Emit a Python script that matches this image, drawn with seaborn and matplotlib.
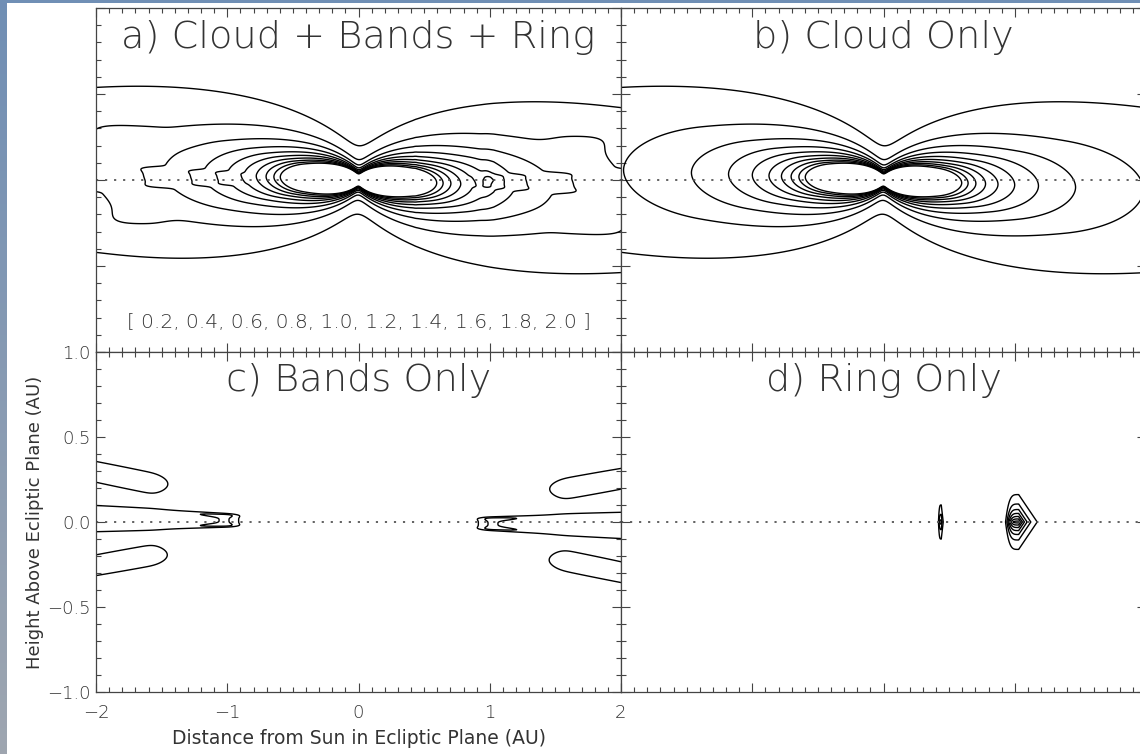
import numpy as np
import matplotlib
matplotlib.use("Agg")
import matplotlib.pyplot as plt
import seaborn as sns
from matplotlib.ticker import MultipleLocator

# contour levels printed in panel a (also used, scaled, for c and d)
levels = [0.2, 0.4, 0.6, 0.8, 1.0, 1.2, 1.4, 1.6, 1.8, 2.0]
band_level_scale = 0.25
ring_level_scale = 0.1

titles = ["a) Cloud + Bands + Ring", "b) Cloud Only", "c) Bands Only", "d) Ring Only"]
x_ticks = [-2, -1, 0, 1, 2]
x_tick_labels = ["\u22122", "\u22121", "0", "1", "2"]
y_ticks = [-1.0, -0.5, 0.0, 0.5, 1.0]
y_tick_labels = ["\u22121.0", "\u22120.5", "0.0", "0.5", "1.0"]

# smooth cloud, Kelsall-type fan model
cloud_alpha = 1.34
cloud_beta = 4.14
cloud_gamma = 0.942
cloud_mu = 0.189
cloud_tilt = 0.03

# dust bands (two bands)
band_amp = [0.34, 0.118]
band_width_deg = [8.78, 2.1]
band_v = [0.1, 0.9]
band_p = 4
band_edge = [1.5, 0.94]
band_tilt = 0.01

# ring features
ring_x = [1.03, 0.44]
ring_peak = [0.15, 0.07]
ring_sx_in = [0.084, 0.02]
ring_sx_out = [0.07, 0.012]
ring_sz = [0.08, 0.08]
ring_q_in = 4

TEXT = "#333333"


def cloud(x, z):
    r = np.maximum(np.sqrt(x**2 + z**2), 1e-3)
    zeta = np.abs(z + cloud_tilt * x) / r
    g = np.where(zeta < cloud_mu, zeta**2 / (2 * cloud_mu), zeta - cloud_mu / 2)
    return r**-cloud_alpha * np.exp(-cloud_beta * g**cloud_gamma)


def bands(x, z):
    r = np.maximum(np.sqrt(x**2 + z**2), 1e-3)
    zeta = np.abs(z + band_tilt * x) / r
    total = np.zeros_like(x)
    for amp, w, v, edge in zip(band_amp, band_width_deg, band_v, band_edge):
        s = zeta / np.radians(w)
        total += amp / r * np.exp(-s**6) * (v + s**band_p) * (1 - np.exp(-(r / edge)**20))
    return total


def ring(x, z):
    total = np.zeros_like(x)
    for xc, pk, sin_, sout, sz in zip(ring_x, ring_peak, ring_sx_in, ring_sx_out, ring_sz):
        dx = x - xc
        gx = np.where(dx < 0, np.exp(-(np.abs(dx) / sin_)**ring_q_in), np.exp(-dx / sout))
        total += pk * gx * np.exp(-np.abs(z) / sz)
    return total


xs = np.linspace(-2.2, 2.2, 1761)
zs = np.linspace(-1.1, 1.1, 881)
X, Z = np.meshgrid(xs, zs)
C = cloud(X, Z)
B = bands(X, Z)
Rg = ring(X, Z)

fields = [C + B + Rg, C, B, Rg]
panel_levels = [levels, levels,
                [l * band_level_scale for l in levels],
                [l * ring_level_scale for l in levels]]

sns.set_theme(style="ticks")
plt.rcParams["font.family"] = ["DejaVu Sans"]
plt.rcParams["font.weight"] = "light"

W, H = 1140, 754
fig = plt.figure(figsize=(W / 100, H / 100), dpi=100)
fig.patch.set_facecolor("white")

# blue-grey frame strips of the slide
strip = fig.add_axes([0, 0, 7 / W, 1])
grad = np.linspace(0, 1, 256)[:, None]
cols = np.array([[0.44, 0.56, 0.71], [0.62, 0.65, 0.69]])
img = cols[0] * (1 - grad[..., None]) + cols[1] * grad[..., None]
strip.imshow(img, aspect="auto", extent=[0, 1, 0, 1])
strip.set_axis_off()
top = fig.add_axes([0, 1 - 3 / H, 1, 3 / H])
top.set_facecolor((0.44, 0.56, 0.71))
top.set_xticks([])
top.set_yticks([])
for s in top.spines.values():
    s.set_visible(False)

lefts = [96, 621, 96, 621]
tops = [8, 8, 352, 352]
heights = [344, 344, 340, 340]
pw = 525

for i in range(4):
    ax = fig.add_axes([lefts[i] / W, (H - tops[i] - heights[i]) / H, pw / W, heights[i] / H])
    ax.contour(X, Z, fields[i], levels=panel_levels[i], colors="black", linewidths=1.0)
    ax.axhline(0, color="#555555", lw=1.3, ls=(0, (1.2, 3.8)))
    ax.set_xlim(-2, 2)
    ax.set_ylim(-1, 1)
    ax.xaxis.set_major_locator(MultipleLocator(1))
    ax.xaxis.set_minor_locator(MultipleLocator(0.1))
    ax.yaxis.set_major_locator(MultipleLocator(0.5))
    ax.yaxis.set_minor_locator(MultipleLocator(0.1))
    ax.tick_params(which="both", direction="in", top=True, right=True,
                   color="#444444", width=0.8)
    ax.tick_params(which="major", length=6.5)
    ax.tick_params(which="minor", length=3.5)
    for s in ax.spines.values():
        s.set_color("#444444")
        s.set_linewidth(0.9)
    ax.text(0.5, 0.915, titles[i], transform=ax.transAxes, ha="center", va="center",
            fontsize=27.5, color=TEXT, fontweight="light")
    if i == 2:
        ax.set_xticks(x_ticks)
        ax.set_xticklabels(x_tick_labels)
        ax.set_yticks(y_ticks)
        ax.set_yticklabels(y_tick_labels)
        ax.tick_params(axis="x", labelsize=13, labelcolor=TEXT, pad=9)
        ax.tick_params(axis="y", labelsize=13, labelcolor=TEXT, pad=4)
        ax.set_xlabel("Distance from Sun in Ecliptic Plane (AU)", fontsize=13.5,
                      color=TEXT, labelpad=5)
        ax.set_ylabel("Height Above Ecliptic Plane (AU)", fontsize=13,
                      color=TEXT, labelpad=2)
    else:
        ax.tick_params(labelbottom=False, labelleft=False)
    if i == 0:
        ax.text(0.5, 0.087, "[ " + ", ".join(f"{l:.1f}" for l in levels) + " ]",
                transform=ax.transAxes, ha="center", va="center",
                fontsize=14.5, color=TEXT, fontweight="light")

fig.savefig("out.png", dpi=100)
